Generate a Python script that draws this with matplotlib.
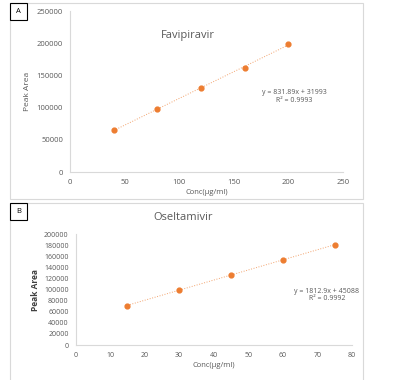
import matplotlib.pyplot as plt
from matplotlib.patches import Rectangle
import numpy as np

# data
fav_conc = [40, 80, 120, 160, 200]
fav_area = [65000, 98000, 131000, 162000, 199000]
fav_eq = "y = 831.89x + 31993\nR² = 0.9993"

osel_conc = [15, 30, 45, 60, 75]
osel_area = [71000, 99000, 127000, 154000, 180000]
osel_eq = "y = 1812.9x + 45088\nR² = 0.9992"

ORANGE = '#ED7D31'
GRAY = '#595959'
plt.rcParams['font.family'] = ['Open Sans', 'DejaVu Sans']

fig = plt.figure(figsize=(3.98, 3.80), dpi=100)

# panel frames
for y0, h in [(0.476, 0.516), (-0.02, 0.486)]:
    fig.patches.append(Rectangle((0.025, y0), 0.887, h, transform=fig.transFigure,
                                 fill=False, edgecolor='#d9d9d9', lw=0.8))
for y0, lab in [(0.947, 'A'), (0.421, 'B')]:
    fig.patches.append(Rectangle((0.025, y0), 0.043, 0.045, transform=fig.transFigure,
                                 fill=False, edgecolor='black', lw=0.8))
    fig.text(0.0465, y0 + 0.0225, lab, ha='center', va='center', fontsize=5.5, color='black')


def panel(rect, x, y, xmax, xstep, ymax, ystep, title, eq, eqpos, titlepos, ylab_bold, tsize):
    ax = fig.add_axes(rect)
    x = np.array(x)
    y = np.array(y)
    m, b = np.polyfit(x, y, 1)
    ax.plot([x[0], x[-1]], [m * x[0] + b, m * x[-1] + b], ls=':', color=ORANGE, lw=0.7, alpha=0.7)
    ax.scatter(x, y, s=12, color=ORANGE, zorder=3)
    ax.set_xlim(0, xmax)
    ax.set_ylim(0, ymax)
    ax.set_xticks(np.arange(0, xmax + 1, xstep))
    ax.set_yticks(np.arange(0, ymax + 1, ystep))
    ax.tick_params(length=0, labelsize=tsize, colors=GRAY, pad=5)
    for s in ['top', 'right']:
        ax.spines[s].set_visible(False)
    for s in ['left', 'bottom']:
        ax.spines[s].set_color('#d9d9d9')
        ax.spines[s].set_linewidth(0.8)
    ax.set_xlabel('Conc(μg/ml)', fontsize=5.5, color=GRAY, labelpad=2)
    if ylab_bold:
        ax.set_ylabel('Peak Area', fontsize=6, color='#404040', fontweight='bold', labelpad=3)
    else:
        ax.set_ylabel('Peak Area', fontsize=6, color=GRAY, labelpad=4)
    ax.text(titlepos[0], titlepos[1], title, transform=ax.transAxes, ha='center',
            va='center', fontsize=8, color=GRAY)
    ax.text(eqpos[0], eqpos[1], eq, transform=ax.transAxes, ha='center', va='center',
            fontsize=5, color=GRAY, linespacing=1.1)
    return ax


panel([0.176, 0.547, 0.686, 0.424], fav_conc, fav_area, 250, 50, 250000, 50000,
      'Favipiravir', fav_eq, (0.82, 0.47), (0.43, 0.85), False, 5.5)
panel([0.190, 0.092, 0.694, 0.292], osel_conc, osel_area, 80, 10, 200000, 20000,
      'Oseltamivir', osel_eq, (0.91, 0.45), (0.39, 1.15), True, 5)

fig.savefig('out.png', dpi=100)
